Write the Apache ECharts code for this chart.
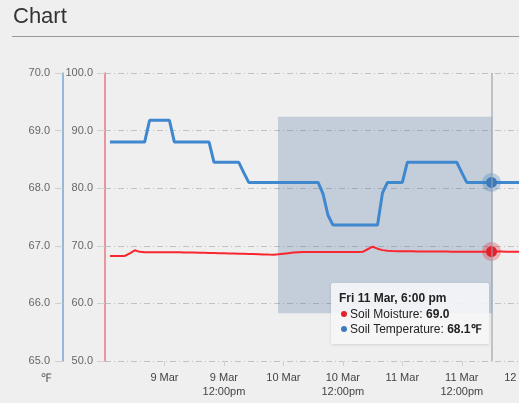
<!DOCTYPE html>
<html>
<head>
<meta charset="utf-8">
<script src="https://cdn.jsdelivr.net/npm/echarts@6.0.0/dist/echarts.min.js"></script>
<style>
  html, body { margin: 0; padding: 0; background: #efefef; }
  #main { width: 519px; height: 403px; }
</style>
</head>
<body>
<div id="main"></div>
<script>
  // hours counted from 8 Mar 2016 00:00
  var hours = [];
  for (var h = 13; h <= 100; h++) hours.push(h);

  var moisture = [
    68.23, 68.23, 68.23, 68.23, 68.7, 69.22, 68.95, 68.9,          // 13-20
    68.88, 68.88, 68.87, 68.87, 68.87, 68.86, 68.86, 68.85, 68.84, 68.83, // 21-30
    68.81, 68.79, 68.77, 68.75, 68.72, 68.7, 68.67, 68.65, 68.63, 68.61,  // 31-40
    68.58, 68.56, 68.53, 68.5, 68.47, 68.45, 68.52, 68.62, 68.72, 68.82,  // 41-50
    68.9, 68.92, 68.92, 68.92, 68.92, 68.93, 68.92, 68.93, 68.93, 68.92,  // 51-60
    68.93, 68.93, 68.94, 68.95, 69.4, 69.84, 69.5, 69.25, 69.15, 69.1,    // 61-70
    69.07, 69.05, 69.05, 69.04, 69.03, 69.02, 69.02, 69.01, 69.0, 69.0,   // 71-80
    68.99, 68.98, 68.98, 68.97, 68.97, 68.96, 68.97, 68.98, 68.98, 69.0,  // 81-90
    68.99, 68.99, 68.98, 68.98, 68.97, 68.97, 68.98, 68.98, 68.99, 68.99  // 91-100
  ];

  var temperature = [
    68.8, 68.8, 68.8, 68.8, 68.8, 68.8, 68.8, 68.8,              // 13-20
    69.18, 69.18, 69.18, 69.18, 69.18,                           // 21-25
    68.8, 68.8, 68.8, 68.8, 68.8, 68.8, 68.8, 68.8,              // 26-33
    68.45, 68.45, 68.45, 68.45, 68.45, 68.45, 68.27,             // 34-40
    68.1, 68.1, 68.1, 68.1, 68.1, 68.1, 68.1, 68.1, 68.1, 68.1,  // 41-50
    68.1, 68.1, 68.1, 68.1, 68.1, 67.9, 67.53,                   // 51-57
    67.36, 67.36, 67.36, 67.36, 67.36, 67.36, 67.36, 67.36, 67.36, 67.36, // 58-67
    67.92, 68.1, 68.1, 68.1, 68.1,                               // 68-72
    68.45, 68.45, 68.45, 68.45, 68.45, 68.45, 68.45, 68.45, 68.45, 68.45, 68.45, // 73-83
    68.27, 68.1, 68.1, 68.1, 68.1, 68.1, 68.1, 68.1, 68.1,       // 84-92
    68.1, 68.1, 68.1, 68.1, 68.1, 68.1, 68.1, 68.1               // 93-100
  ];

  var moistureTicks = [50, 100, 10];
  var tempTicks = [65, 70, 1];
  var xRange = [12, 102];
  // shaded selection: [hour from, hour to], [moisture low, moisture high]
  var selHours = [46.9, 90.2];
  var selMoisture = [58.3, 92.4];
  var tipHour = 90;

  var days = ['Sun', 'Mon', 'Tue', 'Wed', 'Thu', 'Fri', 'Sat'];
  function fmtTime(h) {
    var d = new Date(Date.UTC(2016, 2, 8) + h * 3600000);
    var hr = d.getUTCHours();
    var h12 = hr % 12 == 0 ? 12 : hr % 12;
    return days[d.getUTCDay()] + ' ' + d.getUTCDate() + ' Mar, ' + h12 + ':00 ' + (hr < 12 ? 'am' : 'pm');
  }

  var gridLine = { show: true, lineStyle: { color: '#c2c2c2', width: 1, type: [6, 3, 1, 3] } };
  var labelFont = { fontFamily: 'Liberation Sans, Arial, sans-serif', fontSize: 11, color: '#666' };
  var crossLine = { color: 'rgba(150,158,168,0.55)', width: 2, type: 'solid' };

  var chart = echarts.init(document.getElementById('main'));
  chart.setOption({
    animation: false,
    backgroundColor: '#efefef',
    title: {
      text: 'Chart', left: 8, top: 1,
      textStyle: { fontFamily: 'Liberation Sans, Arial, sans-serif', fontSize: 22, fontWeight: 'normal', color: '#333' }
    },
    graphic: [{
      type: 'line', shape: { x1: 12, y1: 36.5, x2: 519, y2: 36.5 },
      style: { stroke: '#999', lineWidth: 1 }
    }],
    // plot runs on past the right edge of the window
    grid: { left: 105, top: 73, height: 288, width: 446, outerBoundsMode: 'none', containLabel: false },
    tooltip: {
      trigger: 'axis',
      alwaysShowContent: true,
      axisPointer: { type: 'line', snap: true, lineStyle: crossLine },
      backgroundColor: 'rgba(247,247,248,0.88)',
      borderWidth: 0,
      padding: [7, 8],
      extraCssText: 'box-shadow:0 1px 3px rgba(0,0,0,0.12);border-radius:2px;',
      textStyle: { fontFamily: 'Liberation Sans, Arial, sans-serif', fontSize: 12, color: '#222' },
      position: function () { return [331, 283]; },
      formatter: function (params) {
        var s = '<div style="font-weight:bold;line-height:16px;margin-bottom:1px">' + fmtTime(params[0].value[0]) + '</div>';
        params.forEach(function (p) {
          var unit = p.seriesIndex == 1 ? '℉' : '';
          s += '<div style="line-height:15px;padding-left:2px">' +
            '<span style="display:inline-block;width:6px;height:6px;border-radius:3px;background:' + p.color +
            ';margin-right:3px;vertical-align:1px"></span>' + p.seriesName + ': <b>' + p.value[1].toFixed(1) + unit + '</b></div>';
        });
        return s;
      }
    },
    xAxis: {
      type: 'value',
      min: xRange[0], max: xRange[1], interval: 12,
      axisPointer: { type: 'line', snap: true, lineStyle: crossLine, label: { show: false } },
      axisLine: { show: false },
      axisTick: { show: true, length: 5, lineStyle: { color: '#d0d0d0' } },
      splitLine: { show: false },
      axisLabel: {
        fontFamily: 'Liberation Sans, Arial, sans-serif', fontSize: 11, color: '#444',
        margin: 10, lineHeight: 14, showMinLabel: false,
        formatter: function (v) {
          var day = 8 + Math.floor(v / 24);
          if (v % 24 == 0) return day + ' Mar';
          return day + ' Mar\n12:00pm';
        }
      }
    },
    yAxis: [{
      type: 'value', position: 'left', offset: 0,
      min: moistureTicks[0], max: moistureTicks[1], interval: moistureTicks[2],
      axisLine: { show: true, onZero: false, lineStyle: { color: '#e8787c', width: 1.5 } },
      axisTick: { show: true, length: 8, lineStyle: { color: '#d0d0d0' } },
      splitLine: gridLine,
      axisLabel: Object.assign({ margin: 12, formatter: function (v) { return v.toFixed(1); } }, labelFont)
    }, {
      type: 'value', position: 'left', offset: 42,
      min: tempTicks[0], max: tempTicks[1], interval: tempTicks[2],
      name: '℉', nameLocation: 'start', nameGap: 12,
      nameTextStyle: { fontFamily: 'Liberation Sans, Arial, sans-serif', fontSize: 12, color: '#555', align: 'right', padding: [0, 12, 0, 0] },
      axisLine: { show: true, onZero: false, lineStyle: { color: '#78a6d4', width: 1.5 } },
      axisTick: { show: true, length: 8, lineStyle: { color: '#d0d0d0' } },
      splitLine: { show: false },
      axisLabel: Object.assign({ margin: 13, formatter: function (v) { return v.toFixed(1); } }, labelFont)
    }],
    series: [{
      name: 'Soil Moisture',
      type: 'line',
      yAxisIndex: 0,
      data: hours.map(function (h, i) { return [h, moisture[i]]; }),
      showSymbol: false,
      symbol: 'circle',
      symbolSize: 11,
      color: '#e3222b',
      lineStyle: { width: 2 },
      emphasis: {
        scale: false,
        lineStyle: { width: 2 },
        itemStyle: { color: '#e3222b', borderColor: 'rgba(227,34,43,0.3)', borderWidth: 8 }
      },
      markArea: {
        silent: true,
        itemStyle: { color: 'rgba(60,100,150,0.24)' },
        data: [[{ xAxis: selHours[0], yAxis: selMoisture[1] }, { xAxis: selHours[1], yAxis: selMoisture[0] }]]
      },
      z: 3
    }, {
      name: 'Soil Temperature',
      type: 'line',
      yAxisIndex: 1,
      data: hours.map(function (h, i) { return [h, temperature[i]]; }),
      showSymbol: false,
      symbol: 'circle',
      symbolSize: 11,
      color: '#3b7cbc',
      lineStyle: { width: 3 },
      emphasis: {
        scale: false,
        lineStyle: { width: 3 },
        itemStyle: { color: '#3b7cbc', borderColor: 'rgba(59,124,188,0.3)', borderWidth: 8 }
      },
      z: 4
    }]
  });

  chart.dispatchAction({ type: 'showTip', seriesIndex: 0, dataIndex: hours.indexOf(tipHour) });
</script>
</body>
</html>
